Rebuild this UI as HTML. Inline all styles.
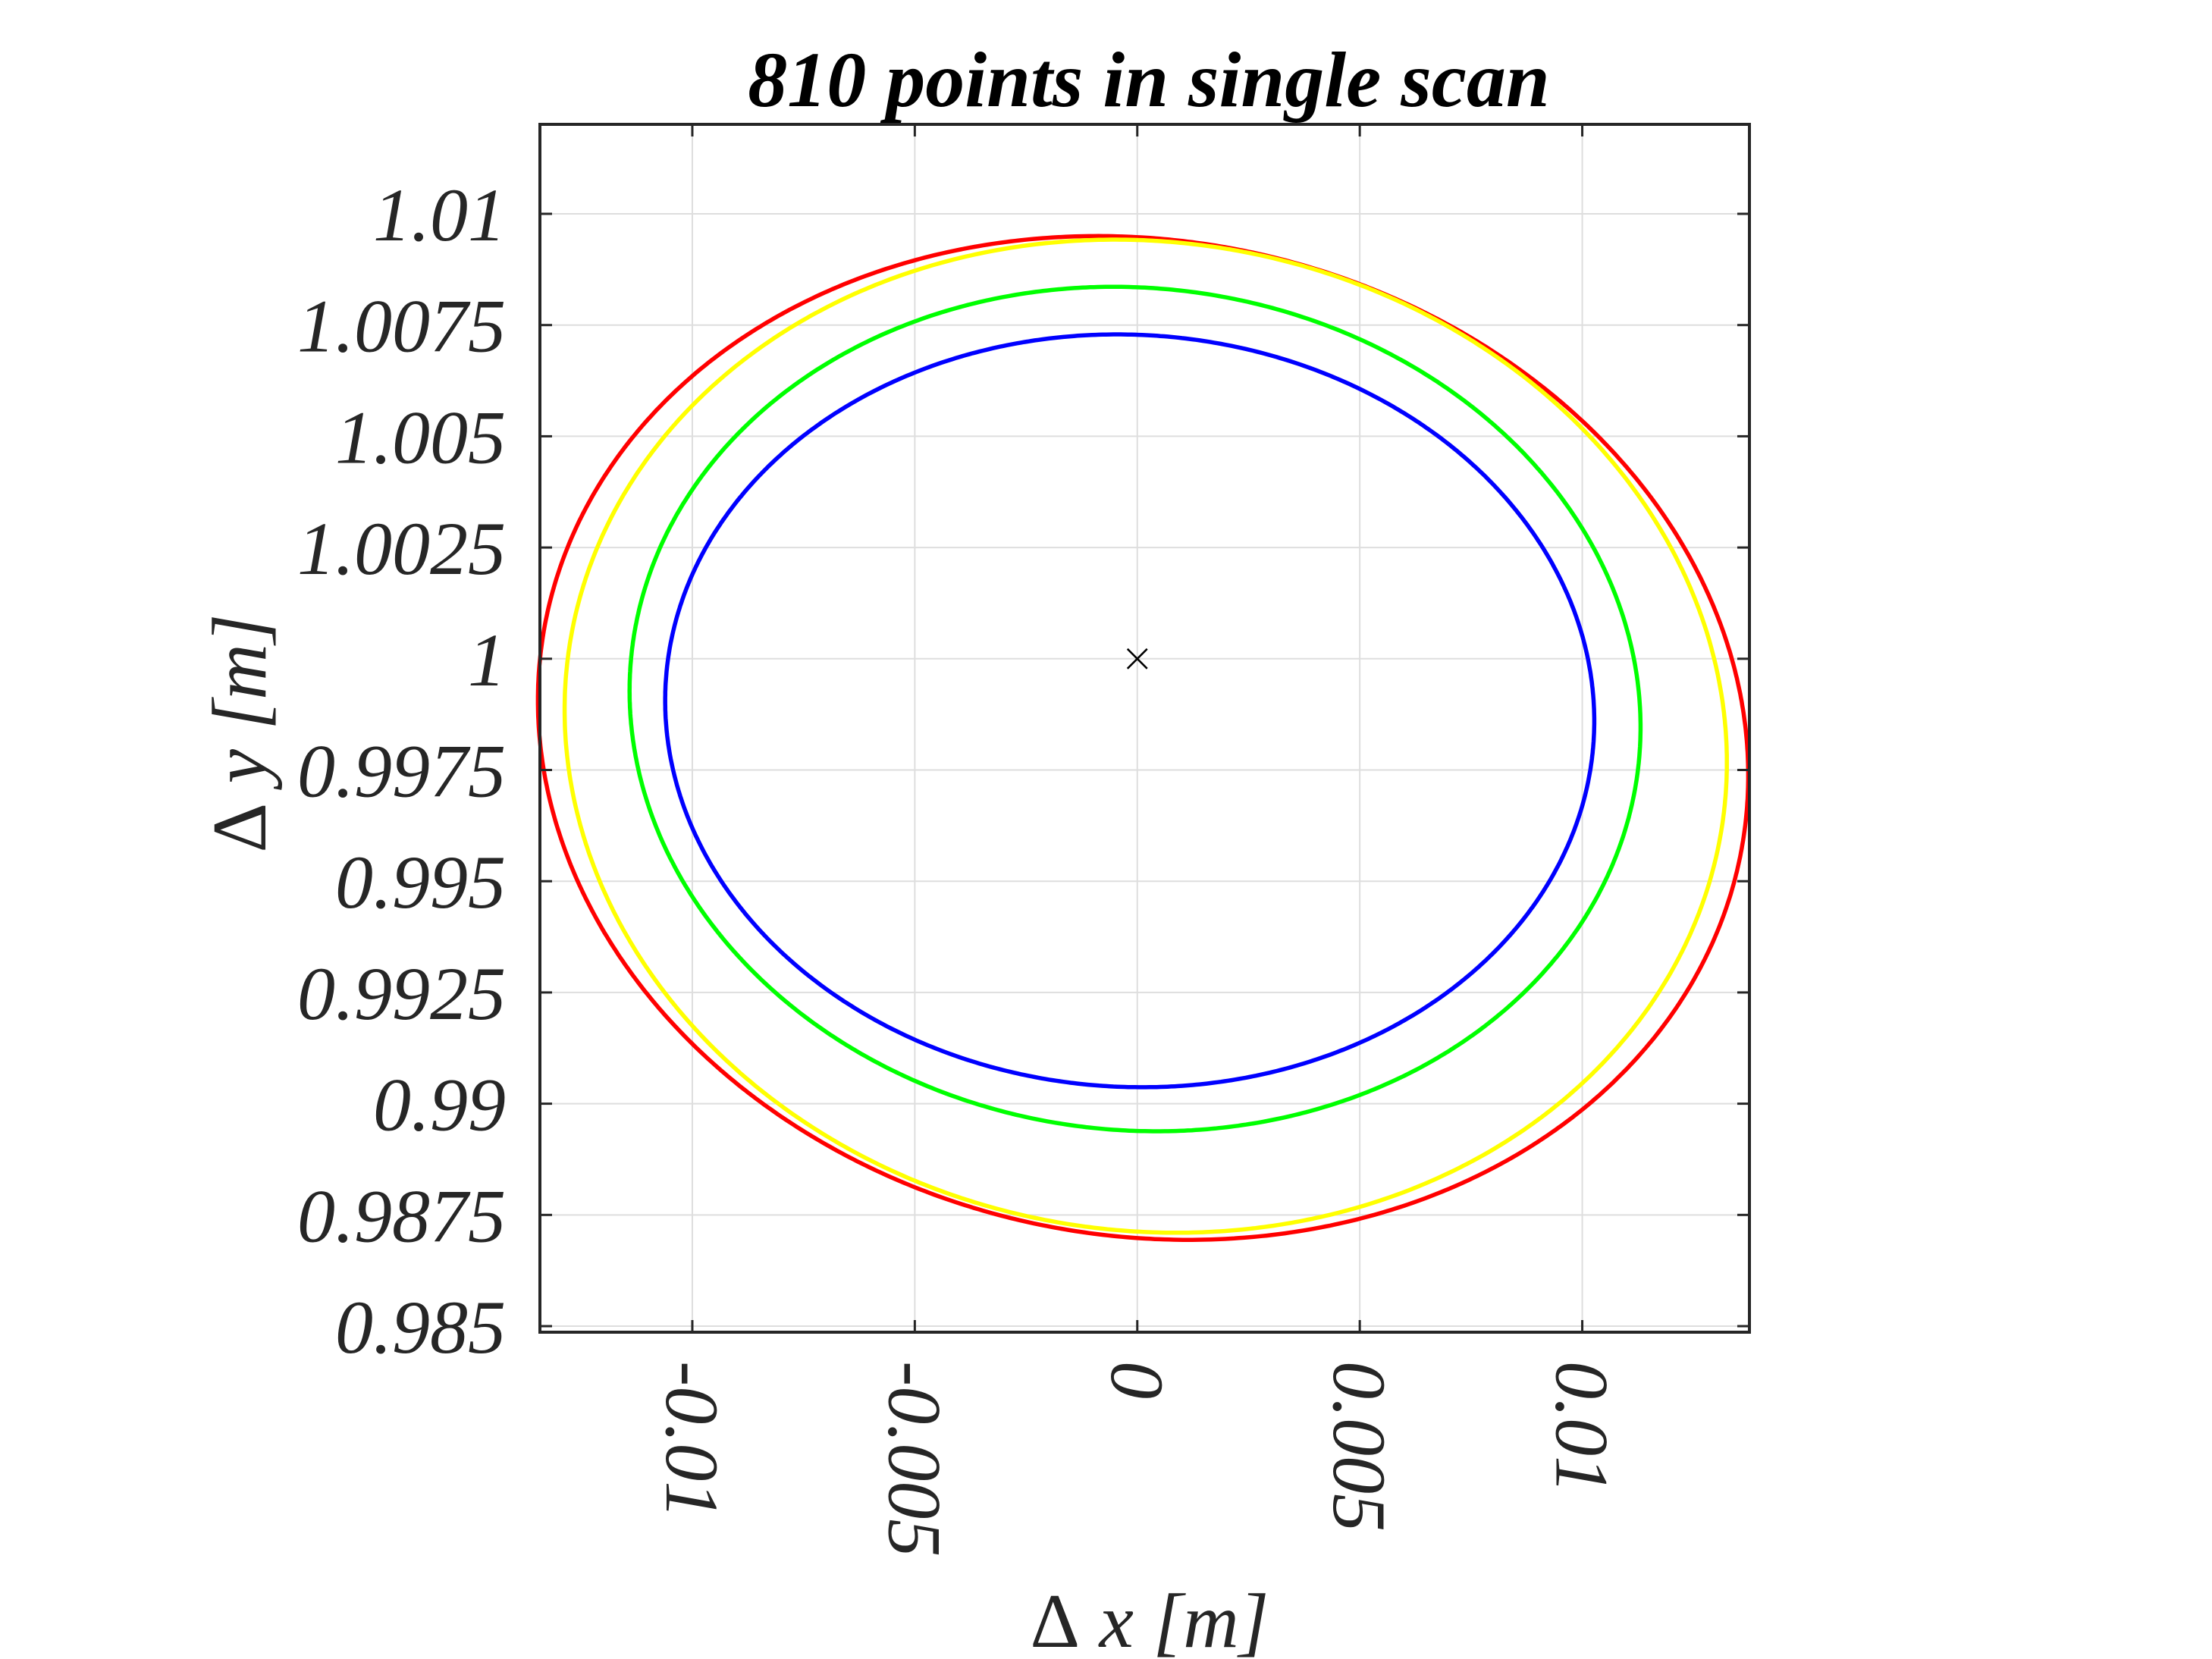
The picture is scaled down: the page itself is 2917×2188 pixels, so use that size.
<!DOCTYPE html>
<html><head><meta charset="utf-8"><style>
html,body{margin:0;padding:0;background:#fff;}
svg{display:block;}
text{font-family:"Liberation Serif",serif;font-style:italic;fill:#262626;}
</style></head><body>
<svg id="chart" width="2917" height="2188" viewBox="0 0 2917 2188" xmlns="http://www.w3.org/2000/svg">
<rect x="0" y="0" width="2917" height="2188" fill="#fff"/>
<g id="grid"></g>
<g id="series"></g>
<g id="axes"></g>
<text x="1515" y="140" text-anchor="middle" style="font-weight:bold;font-size:104px;fill:#000">810 points in single scan</text>
<text x="1516" y="2172" text-anchor="middle" style="font-size:102px"><tspan style="font-style:normal">Δ</tspan> x [m]</text>
<text transform="translate(350,967) rotate(-90)" text-anchor="middle" style="font-size:102px"><tspan style="font-style:normal">Δ</tspan> y [m]</text>
</svg>
<script>
const xTicks = [-0.01, -0.005, 0, 0.005, 0.01];
const xTickLabels = ["-0.01", "-0.005", "0", "0.005", "0.01"];
const yTicks = [0.985, 0.9875, 0.99, 0.9925, 0.995, 0.9975, 1, 1.0025, 1.005, 1.0075, 1.01];
const yTickLabels = ["0.985", "0.9875", "0.99", "0.9925", "0.995", "0.9975", "1", "1.0025", "1.005", "1.0075", "1.01"];
const seriesNames = ["red", "yellow", "green", "blue"];
const seriesColors = ["#ff0000", "#ffff00", "#00ff00", "#0000ff"];
// per-series scan ellipse: center, half-extents, x-y correlation
const ellCenterX = [0.00013, 0.00019, -0.00005, -0.00017];
const ellCenterY = [0.99822, 0.99826, 0.99887, 0.99883];
const ellHalfX = [0.01360, 0.01306, 0.01136, 0.01044];
const ellHalfY = [0.01128, 0.01116, 0.00949, 0.00846];
const ellCorr = [-0.075, -0.053, -0.043, -0.027];
const centerX = [0];
const centerY = [1];

const L = 712, R = 2307, T = 164, B = 1757;
const xMin = -0.013425, xMax = 0.013757, yMin = 0.984864, yMax = 1.012011;
const sx = v => L + (v - xMin) / (xMax - xMin) * (R - L);
const sy = v => B - (v - yMin) / (yMax - yMin) * (B - T);
const NS = "http://www.w3.org/2000/svg";
const mk = (tag, parent) => { const e = document.createElementNS(NS, tag); parent.appendChild(e); return e; };
const grid = document.getElementById('grid');
const axes = document.getElementById('axes');
const ser = document.getElementById('series');

xTicks.forEach((v, i) => {
  const x = sx(v);
  const g = mk('line', grid);
  
  
  g.setAttribute('x1', x); g.setAttribute('x2', x); g.setAttribute('y1', T); g.setAttribute('y2', B);
  g.setAttribute('stroke', '#dedede'); g.setAttribute('stroke-width', 2);
  [[B, B - 16], [T, T + 16]].forEach(p => {
    const t = mk('line', axes);
    
    
    t.setAttribute('x1', x); t.setAttribute('x2', x); t.setAttribute('y1', p[0]); t.setAttribute('y2', p[1]);
    t.setAttribute('stroke', '#262626'); t.setAttribute('stroke-width', 3);
  });
  const lb = mk('text', axes);
  
  
  lb.setAttribute('transform', `translate(${x - 34},1795) rotate(90)`);
  lb.setAttribute('style', 'font-size:100px');
  lb.textContent = xTickLabels[i];
});
yTicks.forEach((v, i) => {
  const y = sy(v);
  const g = mk('line', grid);
  
  
  g.setAttribute('x1', L); g.setAttribute('x2', R); g.setAttribute('y1', y); g.setAttribute('y2', y);
  g.setAttribute('stroke', '#dedede'); g.setAttribute('stroke-width', 2);
  [[L, L + 16], [R, R - 16]].forEach(p => {
    const t = mk('line', axes);
    
    
    t.setAttribute('x1', p[0]); t.setAttribute('x2', p[1]); t.setAttribute('y1', y); t.setAttribute('y2', y);
    t.setAttribute('stroke', '#262626'); t.setAttribute('stroke-width', 3);
  });
  const lb = mk('text', axes);
  
  
  lb.setAttribute('x', 667); lb.setAttribute('y', y + 35);
  lb.setAttribute('text-anchor', 'end');
  lb.setAttribute('style', 'font-size:100px');
  lb.textContent = yTickLabels[i];
});
const box = mk('rect', axes);


box.setAttribute('x', L); box.setAttribute('y', T); box.setAttribute('width', R - L); box.setAttribute('height', B - T);
box.setAttribute('fill', 'none'); box.setAttribute('stroke', '#262626'); box.setAttribute('stroke-width', 4);

ellCenterX.forEach((cx, k) => {
  const cy = ellCenterY[k], rx = ellHalfX[k], ry = ellHalfY[k], c = ellCorr[k];
  const s = Math.sqrt(1 - c * c);
  let d = '';
  const N = 810;
  for (let j = 0; j <= N; j++) {
    const t = 2 * Math.PI * j / N;
    const x = cx + rx * Math.cos(t);
    const y = cy + ry * (c * Math.cos(t) + s * Math.sin(t));
    d += (j ? 'L' : 'M') + sx(x).toFixed(1) + ',' + sy(y).toFixed(1);
  }
  const p = mk('path', ser);
  
  
  p.setAttribute('d', d + 'Z');
  p.setAttribute('fill', 'none'); p.setAttribute('stroke', seriesColors[k]); p.setAttribute('stroke-width', 5.5);
});
centerX.forEach((v, i) => {
  const cx = sx(v), cy = sy(centerY[i]);
  const m = mk('path', ser);
  
  
  m.setAttribute('d', `M${cx-13},${cy-13}L${cx+13},${cy+13}M${cx-13},${cy+13}L${cx+13},${cy-13}`);
  m.setAttribute('stroke', '#000'); m.setAttribute('stroke-width', 2.5);
});
</script>
</body></html>
